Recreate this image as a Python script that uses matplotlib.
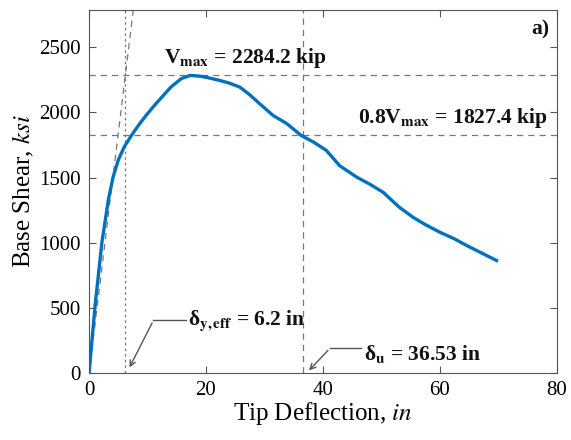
import matplotlib.pyplot as plt
import numpy as np

plt.rcParams['font.family'] = 'Liberation Serif'
plt.rcParams['mathtext.fontset'] = 'stix'

# pushover curve
deflection = [0, 1.0, 2.2, 3.3, 4.1, 5.0, 6.0, 7.3, 8.6, 9.8, 11.2, 12.6, 14.0,
              15.8, 17.3, 19.0, 20.5, 22.4, 24.0, 25.8, 27.5, 29.2, 31.5, 33.8,
              36.3, 38.5, 40.6, 42.9, 45.8, 48.0, 50.3, 51.2, 53.0, 55.4, 57.5,
              60.0, 62.5, 64.6, 67.0, 69.7]
shear = [0, 506, 1005, 1330, 1503, 1635, 1735, 1827, 1910, 1980, 2055, 2125, 2195,
         2260, 2284, 2278, 2265, 2245, 2225, 2194, 2135, 2066, 1976, 1915,
         1823, 1770, 1708, 1590, 1503, 1450, 1388, 1350, 1275, 1196, 1140,
         1081, 1030, 979, 925, 864]

V_max = 2284.2
V_08 = 1827.4
d_yeff = 6.2
d_u = 36.53
x_ticks = [0, 20, 40, 60, 80]
y_ticks = [0, 500, 1000, 1500, 2000, 2500]

fig = plt.figure(figsize=(5.71, 4.40), dpi=100)
ax = fig.add_axes([0.156, 0.152, 0.819, 0.825])

dash = dict(color='#777777', linestyle=(0, (5, 4)), linewidth=0.9)
ax.axhline(V_max, **dash)
ax.axhline(V_08, **dash)
ax.axvline(d_u, **dash)
ax.axvline(d_yeff, color='#777777', linestyle=(0, (2, 2.5)), linewidth=0.9)

# effective stiffness line from origin
k_eff = V_max / d_yeff
ky = np.array([0, 2800])
ax.plot(ky / k_eff, ky, **dash)

ax.plot(deflection, shear, color='#0072BD', linewidth=2.4)

ax.set_xlim(0, 80)
ax.set_ylim(0, 2785)
ax.set_xticks(x_ticks)
ax.set_yticks(y_ticks)
ax.tick_params(direction='in', top=True, right=True, labelsize=15, length=5,
               color='#555555', pad=6)
for s in ax.spines.values():
    s.set_color('#555555')

ax.set_xlabel('Tip Deflection, $\\it{in}$', fontsize=18, labelpad=0)
ax.set_ylabel('Base Shear, $\\it{ksi}$', fontsize=18, labelpad=2)

bold = dict(fontsize=15.5, fontweight='bold', color='#111111')
ax.text(26.7, 2415, 'V$_{\\mathbf{max}}$ = 2284.2 kip', ha='center', va='center', **bold)
ax.text(78.5, 1955, '0.8V$_{\\mathbf{max}}$ = 1827.4 kip', ha='right', va='center', **bold)
ax.text(78.8, 2640, 'a)', ha='right', va='center', **bold)

arrow = dict(arrowstyle='->', color='#555555', lw=1.0)
ax.annotate('', xy=(6.7, 25), xytext=(11, 404), arrowprops=arrow)
ax.plot([11, 16.6], [404, 404], color='#555555', lw=1.0)
ax.text(16.9, 404, 'δ$_{\\mathbf{y,eff}}$ = 6.2 in', ha='left', va='center', **bold)

ax.annotate('', xy=(37.3, 5), xytext=(41.2, 190), arrowprops=arrow)
ax.plot([41.2, 46.6], [190, 190], color='#555555', lw=1.0)
ax.text(47.0, 150, 'δ$_{\\mathbf{u}}$ = 36.53 in', ha='left', va='center', **bold)

fig.savefig('out.png', dpi=100)
